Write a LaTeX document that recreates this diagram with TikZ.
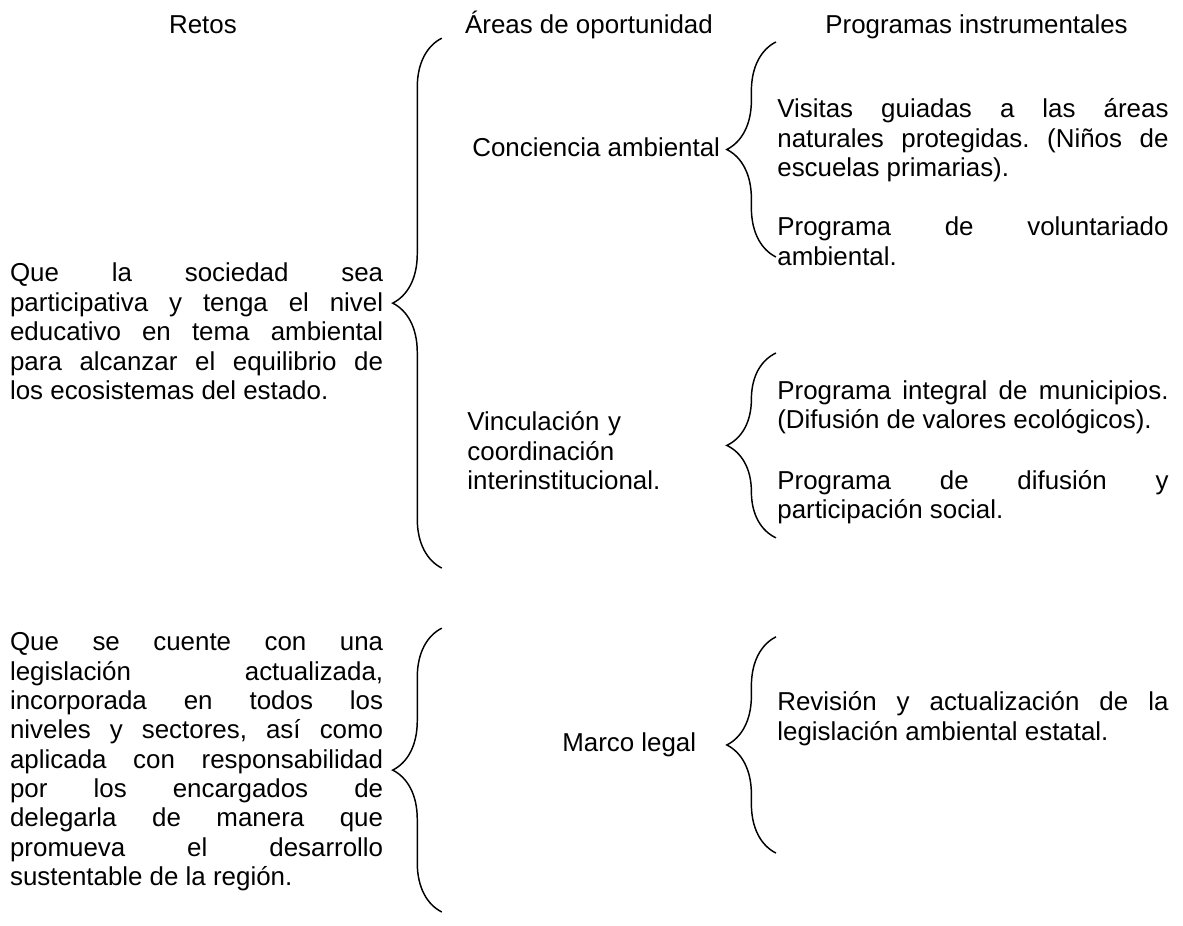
\documentclass[tikz,border=0pt]{standalone}
\usepackage{fontspec}
\setmainfont{Liberation Sans}
\usepackage{tikz}
\usetikzlibrary{decorations.pathreplacing}

\newcommand{\fuente}{\fontsize{19.5pt}{22.1pt}\selectfont\frenchspacing\tolerance=10000\hbadness=10000}
\tikzset{
  llave/.style={decorate,decoration={brace,amplitude=1.3cm},line width=1.1pt},
  titulo/.style={anchor=base west,inner sep=0pt,font=\fuente},
  texto/.style={anchor=base west,inner sep=0pt,align=justify,font=\fuente},
}

\begin{document}
\begin{tikzpicture}
\useasboundingbox (0cm,0cm) rectangle (31.30cm,-24.50cm);
% encabezados
\node[anchor=base,inner sep=0pt,font=\fuente] (retos) at (5.37cm,-0.88cm) {Retos};
\node[titulo] (areas) at (12.30cm,-0.88cm) {Áreas de oportunidad};
\node[titulo] (programas) at (21.83cm,-0.88cm) {Programas instrumentales};

% primer reto
\node[texto,text width=9.87cm] (reto1) at (0.26cm,-7.46cm) {Que la sociedad sea\linebreak participativa y tenga el nivel\linebreak educativo en tema ambiental\linebreak para alcanzar el equilibrio de\linebreak los ecosistemas del estado.};
\coordinate (l1a) at (11.69cm,-1.01cm);
\coordinate (l1b) at (11.69cm,-15.03cm);
\draw[llave] (l1b) -- (l1a);

\node[titulo] (conciencia) at (12.49cm,-4.15cm) {Conciencia ambiental};
\coordinate (l2a) at (20.53cm,-1.11cm);
\coordinate (l2b) at (20.53cm,-6.80cm);
\draw[llave] (l2b) -- (l2a);
\node[texto,text width=10.35cm] (visitas) at (20.56cm,-3.12cm) {Visitas guiadas a las áreas\linebreak naturales protegidas. (Niños de\linebreak escuelas primarias).};
\node[texto,text width=10.35cm] (voluntariado) at (20.56cm,-6.24cm) {Programa de voluntariado\linebreak ambiental.};

\node[texto,text width=6.5cm,align=left] (vinculacion) at (12.36cm,-11.40cm) {Vinculación y\\coordinación\\interinstitucional.};
\coordinate (l3a) at (20.53cm,-9.34cm);
\coordinate (l3b) at (20.53cm,-14.23cm);
\draw[llave] (l3b) -- (l3a);
\node[texto,text width=10.35cm] (municipios) at (20.56cm,-10.56cm) {Programa integral de municipios.\linebreak (Difusión de valores ecológicos).};
\node[texto,text width=10.35cm] (difusion) at (20.56cm,-12.94cm) {Programa de difusión y\linebreak participación social.};

% segundo reto
\node[texto,text width=9.87cm] (reto2) at (0.26cm,-17.22cm) {Que se cuente con una\linebreak legislación actualizada,\linebreak incorporada en todos los\linebreak niveles y sectores, así como\linebreak aplicada con responsabilidad\linebreak por los encargados de\linebreak delegarla de manera que\linebreak promueva el desarrollo\linebreak sustentable de la región.};
\coordinate (l5a) at (11.69cm,-16.62cm);
\coordinate (l5b) at (11.69cm,-24.13cm);
\draw[llave] (l5b) -- (l5a);

\node[titulo] (marco) at (14.87cm,-19.87cm) {Marco legal};
\coordinate (l4a) at (20.53cm,-16.85cm);
\coordinate (l4b) at (20.53cm,-22.57cm);
\draw[llave] (l4b) -- (l4a);
\node[texto,text width=10.35cm] (revision) at (20.56cm,-18.81cm) {Revisión y actualización de la\linebreak legislación ambiental estatal.};
\end{tikzpicture}
\end{document}
